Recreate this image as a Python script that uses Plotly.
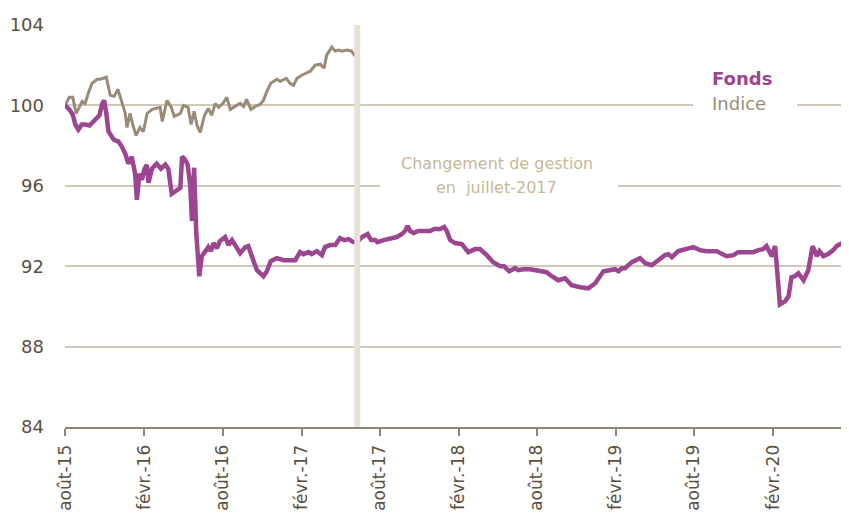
import plotly.graph_objects as go

# ---- data ----
indice_dates = [
    "2015-08-01", "2015-08-11", "2015-08-19", "2015-08-27", "2015-09-10", "2015-09-17",
    "2015-09-24", "2015-10-03", "2015-10-15", "2015-10-22", "2015-11-05", "2015-11-14",
    "2015-11-23", "2015-12-02", "2015-12-12", "2015-12-19", "2015-12-23", "2015-12-30",
    "2016-01-06", "2016-01-13", "2016-01-22", "2016-01-30", "2016-02-08", "2016-02-20",
    "2016-03-09", "2016-03-14", "2016-03-25", "2016-04-04", "2016-04-11", "2016-04-25",
    "2016-05-02", "2016-05-13", "2016-05-20", "2016-05-27", "2016-06-03", "2016-06-10",
    "2016-06-20", "2016-06-29", "2016-07-07", "2016-07-15", "2016-07-23", "2016-08-02",
    "2016-08-11", "2016-08-19", "2016-09-03", "2016-09-11", "2016-09-19", "2016-09-26",
    "2016-10-06", "2016-10-16", "2016-10-27", "2016-11-04", "2016-11-12", "2016-11-21",
    "2016-12-05", "2016-12-13", "2016-12-27", "2017-01-05", "2017-01-13", "2017-01-21",
    "2017-02-01", "2017-02-13", "2017-02-21", "2017-03-04", "2017-03-16", "2017-03-25",
    "2017-03-31", "2017-04-12", "2017-04-20", "2017-04-27", "2017-05-05", "2017-05-17",
    "2017-05-28", "2017-06-05",
]
indice_values = [
    100.0, 100.4, 100.4, 99.6, 100.2, 100.1,
    100.6, 101.1, 101.3, 101.3, 101.4, 100.5,
    100.45, 100.8, 100.1, 99.6, 98.9, 99.6,
    99.0, 98.5, 98.9, 98.7, 99.6, 99.8,
    99.9, 99.2, 100.25, 99.9, 99.45, 99.6,
    100.0, 99.9, 99.05, 99.7, 99.0, 98.65,
    99.5, 99.85, 99.5, 100.1, 99.9, 100.1,
    100.4, 99.8, 100.0, 100.1, 99.95, 100.3,
    99.8, 99.95, 100.05, 100.25, 100.7, 101.1,
    101.3, 101.2, 101.35, 101.1, 101.0, 101.35,
    101.5, 101.6, 101.7, 102.0, 102.05, 101.85,
    102.5, 102.9, 102.7, 102.75, 102.7, 102.75,
    102.7, 102.45,
]

fonds_dates = [
    "2015-08-01", "2015-08-11", "2015-08-19", "2015-08-25", "2015-09-01", "2015-09-09",
    "2015-09-17", "2015-09-27", "2015-10-06", "2015-10-14", "2015-10-20", "2015-10-26",
    "2015-10-31", "2015-11-05", "2015-11-10", "2015-11-22", "2015-12-03", "2015-12-11",
    "2015-12-19", "2015-12-26", "2016-01-03", "2016-01-11", "2016-01-15", "2016-01-21",
    "2016-01-27", "2016-02-01", "2016-02-07", "2016-02-11", "2016-02-19", "2016-03-01",
    "2016-03-11", "2016-03-21", "2016-03-28", "2016-04-05", "2016-04-17", "2016-04-25",
    "2016-04-29", "2016-05-06", "2016-05-12", "2016-05-18", "2016-05-22", "2016-05-27",
    "2016-06-01", "2016-06-08", "2016-06-14", "2016-06-22", "2016-06-29", "2016-07-05",
    "2016-07-11", "2016-07-19", "2016-07-26", "2016-08-07", "2016-08-15", "2016-08-23",
    "2016-09-02", "2016-09-11", "2016-09-23", "2016-09-30", "2016-10-08", "2016-10-20",
    "2016-11-04", "2016-11-12", "2016-11-21", "2016-12-05", "2016-12-21", "2017-01-05",
    "2017-01-17", "2017-01-24", "2017-01-28", "2017-02-05", "2017-02-17", "2017-02-24",
    "2017-03-08", "2017-03-20", "2017-03-27", "2017-04-08", "2017-04-20", "2017-05-01",
    "2017-05-11", "2017-05-21", "2017-06-01", "2017-06-09", "2017-06-21", "2017-07-04",
    "2017-07-12", "2017-07-22", "2017-07-27", "2017-08-10", "2017-08-19", "2017-08-29",
    "2017-09-10", "2017-09-22", "2017-09-29", "2017-10-05", "2017-10-11", "2017-10-19",
    "2017-10-30", "2017-11-11", "2017-11-26", "2017-12-06", "2017-12-20", "2017-12-29",
    "2018-01-04", "2018-01-12", "2018-01-23", "2018-02-08", "2018-02-23", "2018-03-11",
    "2018-03-22", "2018-04-07", "2018-04-22", "2018-05-08", "2018-05-17", "2018-05-29",
    "2018-06-12", "2018-06-19", "2018-07-01", "2018-07-17", "2018-07-28", "2018-08-13",
    "2018-08-24", "2018-09-05", "2018-09-20", "2018-10-06", "2018-10-21", "2018-11-10",
    "2018-11-29", "2018-12-15", "2018-12-26", "2019-01-03", "2019-01-18", "2019-01-30",
    "2019-02-07", "2019-02-15", "2019-02-22", "2019-03-10", "2019-03-29", "2019-04-10",
    "2019-04-25", "2019-05-11", "2019-05-26", "2019-06-03", "2019-06-11", "2019-06-26",
    "2019-07-16", "2019-07-31", "2019-08-15", "2019-08-31", "2019-09-23", "2019-10-05",
    "2019-10-16", "2019-11-01", "2019-11-12", "2019-12-02", "2019-12-17", "2019-12-29",
    "2020-01-09", "2020-01-17", "2020-01-29", "2020-02-06", "2020-02-10", "2020-02-17",
    "2020-02-29", "2020-03-08", "2020-03-15", "2020-03-23", "2020-03-31", "2020-04-12",
    "2020-04-23", "2020-05-03", "2020-05-13", "2020-05-19", "2020-05-28", "2020-06-08",
    "2020-06-20", "2020-06-28", "2020-07-10", "2020-07-17", "2020-07-27",
]
fonds_values = [
    100.0, 99.8, 99.55, 99.05, 98.8, 99.05,
    99.05, 99.0, 99.2, 99.4, 99.5, 100.05,
    100.25, 99.6, 98.7, 98.3, 98.2, 97.95,
    97.6, 97.1, 97.45, 96.6, 95.3, 96.6,
    96.3, 96.8, 97.05, 96.15, 96.85, 97.1,
    96.85, 97.05, 96.85, 95.6, 95.8, 95.9,
    97.45, 97.3, 97.05, 96.0, 94.25, 96.9,
    93.65, 91.5, 92.5, 92.8, 92.95, 92.75,
    93.15, 92.9, 93.25, 93.45, 93.05, 93.3,
    92.95, 92.65, 92.95, 93.0, 92.5, 91.8,
    91.5, 91.75, 92.25, 92.4, 92.3, 92.3,
    92.3, 92.55, 92.7, 92.6, 92.7, 92.6,
    92.75, 92.55, 92.95, 93.05, 93.05, 93.4,
    93.3, 93.35, 93.2, 93.2, 93.45, 93.6,
    93.3, 93.3, 93.2, 93.3, 93.35, 93.35,
    93.45, 93.6, 93.75, 94.0, 93.75, 93.65,
    93.75, 93.75, 93.75, 93.85, 93.85, 93.95,
    93.75, 93.3, 93.15, 93.1, 92.7, 92.85,
    92.85, 92.55, 92.2, 92.0, 92.0, 91.75,
    91.9, 91.8, 91.85, 91.85, 91.8, 91.7,
    91.7, 91.5, 91.3, 91.4, 91.05, 90.95,
    90.9, 91.15, 91.5, 91.75, 91.8, 91.85,
    91.75, 91.9, 91.9, 92.2, 92.4, 92.15,
    92.05, 92.3, 92.55, 92.6, 92.45, 92.75,
    92.85, 92.95, 92.8, 92.75, 92.75, 92.6,
    92.5, 92.55, 92.7, 92.7, 92.7, 92.8,
    92.85, 93.0, 92.5, 93.0, 92.0, 90.1,
    90.25, 90.5, 91.45, 91.5, 91.65, 91.3,
    91.8, 93.0, 92.5, 92.75, 92.5, 92.6,
    92.8, 93.0, 93.15, 93.1, 93.1,
]

tick_dates = ["2015-08-01", "2016-02-01", "2016-08-01", "2017-02-01", "2017-08-01",
              "2018-02-01", "2018-08-01", "2019-02-01", "2019-08-01", "2020-02-01"]
tick_labels = ["août-15", "févr.-16", "août-16", "févr.-17", "août-17",
               "févr.-18", "août-18", "févr.-19", "août-19", "févr.-20"]
y_ticks = [84, 88, 92, 96, 100, 104]

change_date = "2017-06-10"
x_range = ["2015-08-01", "2020-07-26 14:00"]

FONDS_COLOR = "#9c4591"
INDICE_COLOR = "#9a8b78"
GRID_COLOR = "#d0c8bc"
AXIS_COLOR = "#8f8575"
TEXT_COLOR = "#5c5040"
NOTE_COLOR = "#c8b898"
FONT = "DejaVu Sans"

# the page has an 8px body margin; size the figure so that it fits the window exactly
OFF = 8
W, H = 849 - OFF, 515 - OFF
PL, PR, PT, PB = 65, 849, 25, 427  # plot area in window pixels


def px(x):
    return (x - PL) / (PR - PL)


def py(y):
    return (PB - y) / (PB - PT)


fig = go.Figure()
fig.add_trace(go.Scatter(x=indice_dates, y=indice_values, mode="lines", name="Indice",
                         line=dict(color=INDICE_COLOR, width=3)))
fig.add_trace(go.Scatter(x=fonds_dates, y=fonds_values, mode="lines", name="Fonds",
                         line=dict(color=FONDS_COLOR, width=4.5)))

# management change marker
fig.add_shape(type="line", x0=change_date, x1=change_date, xref="x", yref="paper",
              y0=0, y1=1, line=dict(color="#e9e1d4", width=6), layer="above")

# white boxes that interrupt the gridlines behind the texts
fig.add_shape(type="rect", xref="paper", yref="paper", x0=px(380), x1=px(618),
              y0=py(200), y1=py(150), fillcolor="white", line=dict(width=0), layer="above")
fig.add_shape(type="rect", xref="paper", yref="paper", x0=px(693), x1=px(797),
              y0=py(110), y1=py(52), fillcolor="white", line=dict(width=0), layer="above")

fig.add_annotation(x=px(497), y=py(163), xref="paper", yref="paper",
                   text="Changement de gestion", showarrow=False,
                   font=dict(family=FONT, size=16, color=NOTE_COLOR))
fig.add_annotation(x=px(497), y=py(187), xref="paper", yref="paper",
                   text="en  juillet-2017", showarrow=False,
                   font=dict(family=FONT, size=16, color=NOTE_COLOR))

fig.add_annotation(x=px(710), y=py(66), xref="paper", yref="paper", xanchor="left",
                   text="<b>Fonds</b>", showarrow=False,
                   font=dict(family=FONT, size=18, color=FONDS_COLOR))
fig.add_annotation(x=px(710), y=py(91), xref="paper", yref="paper", xanchor="left",
                   text="Indice", showarrow=False,
                   font=dict(family=FONT, size=18, color=INDICE_COLOR))

fig.update_layout(
    width=W, height=H,
    margin=dict(l=PL - OFF, r=0, t=PT - OFF, b=H - (PB - OFF)),
    plot_bgcolor="white", paper_bgcolor="white",
    showlegend=False,
    font=dict(family=FONT, color=TEXT_COLOR),
    xaxis=dict(type="date", range=x_range, tickvals=tick_dates, ticktext=tick_labels,
               tickangle=-90, tickfont=dict(family=FONT, size=17, color=TEXT_COLOR),
               ticklabelstandoff=2, automargin=False,
               showgrid=False, showline=True, linecolor=AXIS_COLOR, linewidth=2,
               ticks="outside", ticklen=7, tickcolor=AXIS_COLOR, tickwidth=2, zeroline=False),
    yaxis=dict(range=[84, 104], tickvals=y_ticks, ticks="", ticklabelstandoff=20,
               automargin=False,
               tickfont=dict(family=FONT, size=18, color=TEXT_COLOR),
               showgrid=True, gridcolor=GRID_COLOR, gridwidth=2, zeroline=False,
               showline=False),
)

fig.write_html("out.html")
